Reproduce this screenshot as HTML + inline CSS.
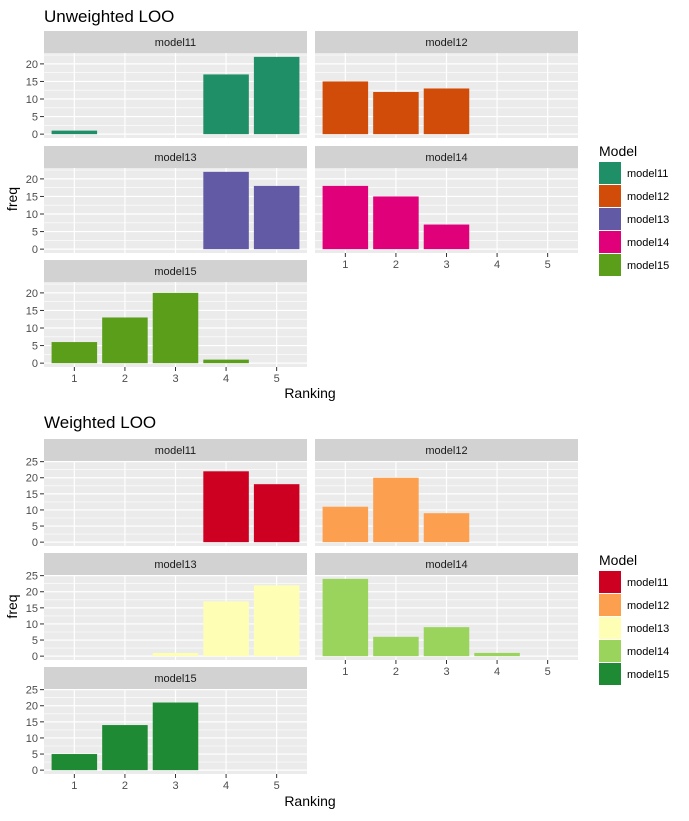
<!DOCTYPE html>
<html><head><meta charset="utf-8"><style>
body{margin:0;background:#fff;}
svg text{font-family:"Liberation Sans",Arial,sans-serif;}
</style></head><body>
<svg id="c" width="689" height="816" xmlns="http://www.w3.org/2000/svg"></svg>
<script>
const categories = [1,2,3,4,5];
const models = ["model11","model12","model13","model14","model15"];
const unweightedM11 = [1,0,0,17,22];
const unweightedM12 = [15,12,13,0,0];
const unweightedM13 = [0,0,0,22,18];
const unweightedM14 = [18,15,7,0,0];
const unweightedM15 = [6,13,20,1,0];
const weightedM11 = [0,0,0,22,18];
const weightedM12 = [11,20,9,0,0];
const weightedM13 = [0,0,1,17,22];
const weightedM14 = [24,6,9,1,0];
const weightedM15 = [5,14,21,0,0];
const unweightedTicks = [0,5,10,15,20];
const weightedTicks = [0,5,10,15,20,25];
const unweightedColors = ["#1e8f67","#d04c08","#635aa5","#e0007a","#5a9e1a"];
const weightedColors = ["#ce0021","#fca050","#feffb4","#9ad45c","#1e8a34"];

const svg = document.getElementById('c');
const NS = "http://www.w3.org/2000/svg";
function el(tag, attrs, parent){const e=document.createElementNS(NS,tag);for(const k in attrs)e.setAttribute(k,attrs[k]);(parent||svg).appendChild(e);return e;}
function txt(s, attrs, parent){const e=el('text',attrs,parent);e.textContent=s;return e;}

function drawPlot(title, titleY, series, colors, ticks, panelTops, legendTop, xLabY, prefix){
  const g = el('g',{});
  
  
  const t = txt(title,{x:44,y:titleY,'font-size':17,fill:'#000'},g);
  
  
  let maxV = 0; series.forEach(s=>s.forEach(v=>{if(v>maxV)maxV=v;}));
  const lo = -0.05*maxV, hi = maxV*1.05;
  const PH = 85, PW = 263;
  const cols = [44,315];
  series.forEach((vals,i)=>{
    const col = i%2, row = Math.floor(i/2);
    const px = cols[col], py = panelTops[row];
    const yS = v => py + PH - (v-lo)/(hi-lo)*PH;
    const xS = c => px + (c-0.4)/5.2*PW;
    const pg = el('g',{},g);
    
    
    const strip = el('rect',{x:px,y:py-22,width:PW,height:22,fill:'#d2d2d2'},pg);
    
    
    txt(models[i],{x:px+PW/2,y:py-7,'font-size':11,'text-anchor':'middle',fill:'#1a1a1a'},pg);
    el('rect',{x:px,y:py,width:PW,height:PH,fill:'#ebebeb'},pg);
    for(let k=0;k<ticks.length-1;k++){
      const m=(ticks[k]+ticks[k+1])/2; el('line',{x1:px,x2:px+PW,y1:yS(m),y2:yS(m),stroke:'#fff','stroke-width':0.6},pg);
    }
    if(yS(ticks[ticks.length-1]+2.5)>py) el('line',{x1:px,x2:px+PW,y1:yS(ticks[ticks.length-1]+2.5),y2:yS(ticks[ticks.length-1]+2.5),stroke:'#fff','stroke-width':0.6},pg);
    ticks.forEach(tk=>el('line',{x1:px,x2:px+PW,y1:yS(tk),y2:yS(tk),stroke:'#fff','stroke-width':1.2},pg));
    categories.forEach(c=>el('line',{x1:xS(c),x2:xS(c),y1:py,y2:py+PH,stroke:'#fff','stroke-width':1.2},pg));
    vals.forEach((v,j)=>{
      if(v<=0) return;
      const cx = xS(categories[j]), bw = 0.9/5.2*PW;
      const b = el('rect',{x:cx-bw/2,y:yS(v),width:bw,height:yS(0)-yS(v),fill:colors[i]},pg);
      
      
    });
    if(col===0){
      ticks.forEach(tk=>{
        el('line',{x1:px-4,x2:px,y1:yS(tk),y2:yS(tk),stroke:'#333'},pg);
        txt(String(tk),{x:px-6,y:yS(tk)+4,'font-size':11,'text-anchor':'end',fill:'#4d4d4d'},pg);
      });
    }
    const hasX = (row===2) || (row===1 && col===1);
    if(hasX){
      categories.forEach(c=>{
        el('line',{x1:xS(c),x2:xS(c),y1:py+PH,y2:py+PH+4,stroke:'#333'},pg);
        txt(String(c),{x:xS(c),y:py+PH+15,'font-size':11,'text-anchor':'middle',fill:'#4d4d4d'},pg);
      });
    }
  });
  const midY = (panelTops[0]-22+panelTops[2]+PH)/2;
  const yl = txt('freq',{x:0,y:0,'font-size':14,'text-anchor':'middle',transform:`translate(17,${midY}) rotate(-90)`},g);
  
  
  const xl = txt('Ranking',{x:310,y:xLabY,'font-size':14,'text-anchor':'middle'},g);
  
  
  const lg = el('g',{},g);
  
  
  txt('Model',{x:599,y:legendTop-6,'font-size':14},lg);
  models.forEach((m,i)=>{
    const e = el('g',{},lg);
    
    
    el('rect',{x:599,y:legendTop+i*23,width:22,height:22,fill:colors[i]},e);
    txt(m,{x:627,y:legendTop+i*23+15,'font-size':11},e);
  });
}
drawPlot('Unweighted LOO',22,[unweightedM11,unweightedM12,unweightedM13,unweightedM14,unweightedM15],unweightedColors,unweightedTicks,[53,168,282],162,398,'unweighted');
drawPlot('Weighted LOO',428,[weightedM11,weightedM12,weightedM13,weightedM14,weightedM15],weightedColors,weightedTicks,[461,575,689],571,806,'weighted');
</script>
</body></html>
